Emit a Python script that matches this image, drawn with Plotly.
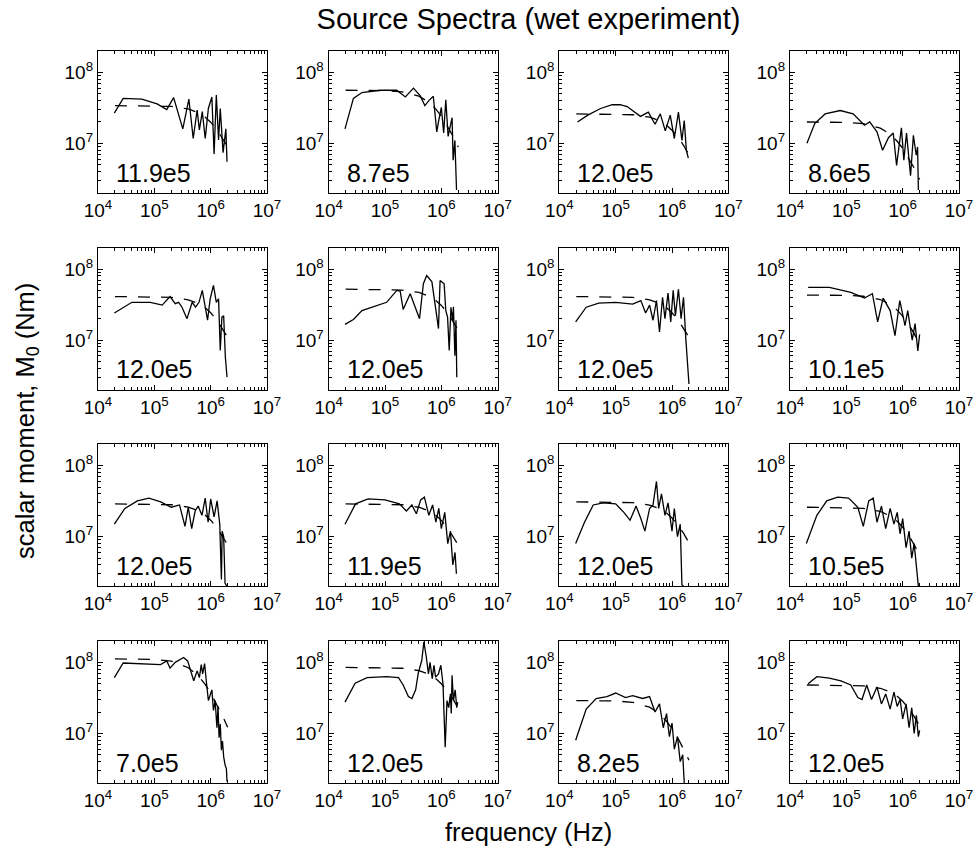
import plotly.graph_objects as go
from plotly.subplots import make_subplots

# ---- source spectra: frequency (Hz) and scalar moment M0 (Nm), one panel per event ----
corner_labels = ["11.9e5", "8.7e5", "12.0e5", "8.6e5",
                 "12.0e5", "12.0e5", "12.0e5", "10.1e5",
                 "12.0e5", "11.9e5", "12.0e5", "10.5e5",
                 "7.0e5", "12.0e5", "8.2e5", "12.0e5"]

spec_f = [
    [1.95e4, 2.8e4, 6.0e4, 1.12e5, 1.66e5, 2.2e5, 3.2e5, 4.1e5, 4.9e5, 5.75e5, 6.3e5, 7.1e5, 8.0e5, 9.1e5,
     1.05e6, 1.15e6, 1.26e6, 1.38e6, 1.48e6, 1.66e6, 1.86e6, 1.95e6],
    [1.95e4, 2.75e4, 3.9e4, 8.1e4, 1.62e5, 2.3e5, 3.2e5, 4.2e5, 5.1e5, 6.0e5, 7.2e5, 8.3e5, 8.9e5, 1.0e6,
     1.1e6, 1.2e6, 1.32e6, 1.55e6, 1.62e6, 1.74e6, 1.86e6],
    [2.1e4, 3.2e4, 5.4e4, 8.7e4, 1.2e5, 1.6e5, 2.75e5, 3.8e5, 5.0e5, 6.2e5, 7.6e5, 9.3e5, 1.1e6, 1.3e6,
     1.5e6, 1.65e6, 1.8e6, 1.95e6],
    [2.0e4, 2.75e4, 4.2e4, 7.8e4, 1.32e5, 1.74e5, 2.1e5, 2.6e5, 3.5e5, 4.4e5, 5.6e5, 6.8e5, 7.8e5, 9.5e5,
     1.05e6, 1.17e6, 1.38e6, 1.55e6, 1.74e6, 1.84e6, 1.9e6],
    [1.95e4, 2.8e4, 4.0e4, 8.5e4, 1.38e5, 1.9e5, 2.35e5, 2.7e5, 3.1e5, 3.8e5, 4.7e5, 5.4e5, 6.2e5, 7.1e5,
     8.0e5, 8.8e5, 9.8e5, 1.12e6, 1.26e6, 1.38e6, 1.48e6, 1.58e6, 1.7e6, 1.82e6, 1.95e6],
    [1.95e4, 2.75e4, 3.9e4, 6.8e4, 1.07e5, 1.62e5, 1.86e5, 2.1e5, 2.45e5, 2.8e5, 4.1e5, 4.8e5, 5.5e5, 6.8e5,
     8.9e5, 9.5e5, 1.12e6, 1.2e6, 1.29e6, 1.38e6, 1.48e6, 1.58e6, 1.64e6, 1.74e6, 1.82e6, 1.88e6],
    [1.95e4, 3.0e4, 5.0e4, 1.0e5, 2.0e5, 2.8e5, 3.4e5, 4.0e5, 4.6e5, 5.3e5, 6.0e5, 6.8e5, 7.5e5, 8.5e5,
     9.5e5, 1.05e6, 1.15e6, 1.3e6, 1.45e6, 1.6e6, 1.75e6, 1.9e6, 2.0e6],
    [2.1e4, 5.0e4, 1.2e5, 2.1e5, 2.9e5, 3.6e5, 4.5e5, 6.0e5, 7.3e5, 8.9e5, 1.1e6, 1.23e6, 1.48e6, 1.66e6,
     1.86e6, 2.0e6],
    [1.95e4, 3.0e4, 5.0e4, 8.0e4, 1.3e5, 2.0e5, 2.8e5, 3.5e5, 4.0e5, 4.6e5, 5.3e5, 6.0e5, 7.0e5, 8.0e5,
     9.0e5, 1.0e6, 1.15e6, 1.3e6, 1.45e6, 1.55e6, 1.6e6, 1.7e6, 1.8e6, 1.95e6],
    [1.95e4, 3.0e4, 5.0e4, 1.0e5, 1.8e5, 2.4e5, 3.0e5, 3.6e5, 4.3e5, 5.0e5, 6.0e5, 7.0e5, 8.0e5, 9.0e5,
     1.0e6, 1.15e6, 1.3e6, 1.45e6, 1.6e6, 1.75e6, 1.85e6],
    [1.95e4, 2.8e4, 4.0e4, 6.0e4, 1.0e5, 1.4e5, 1.8e5, 2.3e5, 2.8e5, 3.3e5, 4.0e5, 4.6e5, 5.3e5, 5.8e5,
     6.5e5, 7.5e5, 8.5e5, 1.0e6, 1.1e6, 1.25e6, 1.4e6, 1.5e6, 1.6e6],
    [1.95e4, 3.0e4, 4.5e4, 7.0e4, 1.1e5, 1.6e5, 2.0e5, 2.5e5, 3.0e5, 3.5e5, 4.2e5, 5.0e5, 6.0e5, 7.0e5,
     8.0e5, 9.0e5, 1.0e6, 1.15e6, 1.3e6, 1.45e6, 1.6e6, 1.75e6, 1.9e6],
    [1.95e4, 2.8e4, 1.29e5, 1.66e5, 1.9e5, 2.35e5, 3.3e5, 3.9e5, 5.0e5, 5.75e5, 6.3e5, 6.8e5, 7.2e5, 7.8e5,
     8.5e5, 9.1e5, 1.05e6, 1.12e6, 1.2e6, 1.29e6, 1.35e6, 1.41e6, 1.48e6, 1.55e6, 1.62e6, 1.7e6, 1.8e6,
     1.9e6, 1.95e6],
    [1.95e4, 2.95e4, 4.8e4, 1.07e5, 1.74e5, 2.1e5, 2.6e5, 3.0e5, 3.5e5, 3.9e5, 4.5e5, 4.9e5, 5.4e5, 5.9e5,
     6.3e5, 6.9e5, 7.4e5, 7.9e5, 8.9e5, 9.8e5, 1.07e6, 1.15e6, 1.17e6, 1.26e6, 1.35e6, 1.45e6, 1.5e6,
     1.55e6, 1.64e6, 1.76e6, 1.88e6, 1.95e6],
    [1.95e4, 3.0e4, 4.5e4, 7.0e4, 1.0e5, 1.5e5, 2.0e5, 3.0e5, 4.0e5, 5.0e5, 6.0e5, 7.0e5, 8.0e5, 9.0e5,
     1.0e6, 1.1e6, 1.25e6, 1.4e6, 1.55e6, 1.65e6],
    [2.1e4, 3.0e4, 5.0e4, 8.0e4, 1.2e5, 1.6e5, 1.9e5, 2.3e5, 2.8e5, 3.5e5, 4.2e5, 5.0e5, 6.0e5, 7.0e5,
     8.0e5, 9.0e5, 1.0e6, 1.15e6, 1.3e6, 1.45e6, 1.6e6, 1.75e6, 1.9e6, 2.0e6],
]

spec_m = [
    [2.67e7, 4.3e7, 4.2e7, 3.6e7, 3.0e7, 4.4e7, 1.6e7, 4.2e7, 1.17e7, 2.95e7, 1.55e7, 2.8e7, 1.17e7, 3.1e7,
     4.5e7, 7.1e6, 4.8e7, 1.12e7, 3.1e7, 7.4e6, 1.6e7, 5.5e6],
    [1.6e7, 4.3e7, 5.2e7, 5.6e7, 5.6e7, 4.5e7, 6.0e7, 4.7e7, 3.4e7, 4.0e7, 4.6e7, 1.45e7, 2.0e7, 3.2e7,
     1.4e7, 4.1e7, 1.25e7, 2.3e7, 5.8e6, 1.1e7, 2.2e6],
    [2.0e7, 2.5e7, 3.1e7, 3.5e7, 3.5e7, 3.3e7, 2.4e7, 2.75e7, 1.86e7, 2.6e7, 1.5e7, 2.5e7, 1.17e7, 2.75e7,
     1.1e7, 2.1e7, 7.9e6, 6.2e6],
    [1.0e7, 1.9e7, 2.6e7, 2.9e7, 2.6e7, 2.1e7, 1.8e7, 2.0e7, 1.45e7, 8.0e6, 1.2e7, 1.4e7, 4.9e6, 1.65e7,
     5.8e6, 1.4e7, 3.5e6, 1.3e7, 6.8e6, 8.9e6, 2.2e6],
    [2.4e7, 2.9e7, 3.4e7, 3.4e7, 3.1e7, 4.1e7, 3.25e7, 3.4e7, 2.9e7, 2.0e7, 3.4e7, 2.9e7, 3.4e7, 5.0e7,
     3.1e7, 1.9e7, 3.8e7, 5.9e7, 3.4e7, 3.8e7, 7.1e6, 2.1e7, 2.2e7, 5.8e6, 3.0e6],
    [1.66e7, 1.95e7, 2.6e7, 3.0e7, 3.4e7, 5.0e7, 4.9e7, 2.7e7, 3.6e7, 4.5e7, 2.0e7, 6.2e7, 8.1e7, 6.6e7,
     1.45e7, 6.9e7, 6.2e7, 2.6e7, 2.1e7, 7.1e6, 2.9e7, 1.9e7, 2.95e7, 6.0e6, 1.9e7, 3.0e6],
    [1.8e7, 2.9e7, 3.3e7, 3.4e7, 3.2e7, 3.6e7, 2.4e7, 3.1e7, 1.9e7, 3.6e7, 1.3e7, 4.0e7, 2.0e7, 4.6e7,
     1.8e7, 5.0e7, 2.2e7, 5.2e7, 2.0e7, 4.0e7, 1.1e7, 5.0e6, 2.4e6],
    [5.5e7, 5.5e7, 4.7e7, 3.9e7, 4.5e7, 1.8e7, 3.9e7, 2.6e7, 1.15e7, 3.6e7, 1.6e7, 2.6e7, 1.0e7, 1.7e7,
     7.0e6, 1.2e7],
    [1.5e7, 2.5e7, 3.2e7, 3.5e7, 3.1e7, 2.6e7, 2.8e7, 1.4e7, 2.6e7, 1.3e7, 2.3e7, 2.7e7, 2.0e7, 3.5e7,
     1.6e7, 3.4e7, 1.9e7, 3.2e7, 1.5e7, 2.5e6, 1.2e7, 1.0e7, 2.2e6, 2.0e6],
    [1.5e7, 2.9e7, 3.4e7, 3.3e7, 2.9e7, 2.3e7, 2.8e7, 2.1e7, 3.3e7, 3.6e7, 2.0e7, 2.8e7, 1.6e7, 2.5e7,
     1.3e7, 2.2e7, 8.0e6, 1.2e7, 4.0e6, 6.0e6, 3.0e6],
    [8.0e6, 1.6e7, 2.8e7, 3.0e7, 2.9e7, 2.2e7, 1.7e7, 2.7e7, 1.8e7, 1.2e7, 2.5e7, 2.8e7, 6.0e7, 2.5e7,
     4.0e7, 2.0e7, 3.0e7, 1.2e7, 2.5e7, 1.0e7, 1.5e7, 2.1e6, 2.0e6],
    [8.0e6, 2.0e7, 3.2e7, 3.6e7, 3.5e7, 2.6e7, 1.4e7, 3.2e7, 3.5e7, 1.6e7, 2.7e7, 1.3e7, 2.5e7, 1.5e7,
     2.2e7, 1.1e7, 1.8e7, 7.0e6, 1.2e7, 5.0e6, 8.0e6, 4.0e6, 2.0e6],
    [6.1e7, 9.8e7, 9.3e7, 1.05e8, 8.3e7, 1.0e8, 1.17e8, 1.05e8, 5.5e7, 7.6e7, 6.1e7, 9.3e7, 6.9e7, 9.6e7,
     4.8e7, 2.9e7, 4.1e7, 2.1e7, 2.9e7, 1.2e7, 2.4e7, 8.7e6, 1.35e7, 5.8e6, 7.8e6, 4.7e6, 3.6e6, 3.2e6,
     2.1e6],
    [2.76e7, 5.1e7, 6.1e7, 6.3e7, 6.1e7, 4.8e7, 3.3e7, 3.1e7, 4.1e7, 7.1e7, 1.07e8, 1.95e8, 1.2e8, 6.9e7,
     1.0e8, 5.9e7, 9.1e7, 6.2e7, 6.9e7, 9.1e7, 5.0e7, 1.4e7, 6.4e6, 2.9e7, 2.3e7, 3.6e7, 1.9e7, 6.6e7,
     2.9e7, 4.1e7, 2.3e7, 2.75e7],
    [8.0e6, 2.2e7, 3.1e7, 3.3e7, 3.7e7, 3.2e7, 3.4e7, 3.1e7, 3.3e7, 2.0e7, 2.6e7, 1.2e7, 1.9e7, 9.0e6,
     1.4e7, 6.0e6, 9.0e6, 4.0e6, 5.0e6, 2.0e6],
    [5.0e7, 6.3e7, 6.0e7, 5.5e7, 4.8e7, 3.2e7, 3.0e7, 4.8e7, 3.0e7, 4.5e7, 2.6e7, 3.6e7, 2.2e7, 3.8e7,
     2.4e7, 3.0e7, 1.6e7, 2.6e7, 1.2e7, 2.3e7, 1.0e7, 1.8e7, 9.0e6, 1.1e7],
]

# fitted source model (dashed), sampled at common frequencies
model_f = [2e4, 1e5, 2e5, 4e5, 6e5, 8e5, 1e6, 1.3e6, 1.6e6, 2e6]
model_m = [
    [3.4e7, 3.38e7, 3.31e7, 3.05e7, 2.71e7, 2.34e7, 1.99e7, 1.55e7, 1.21e7, 8.9e6],
    [5.6e7, 5.53e7, 5.32e7, 4.62e7, 3.8e7, 3.04e7, 2.41e7, 1.73e7, 1.28e7, 8.9e6],
    [2.6e7, 2.58e7, 2.53e7, 2.34e7, 2.08e7, 1.8e7, 1.53e7, 1.2e7, 9.4e6, 6.9e6],
    [2.0e7, 1.97e7, 1.9e7, 1.64e7, 1.35e7, 1.07e7, 8.5e6, 6.1e6, 4.5e6, 3.1e6],
    [4.1e7, 4.07e7, 3.99e7, 3.69e7, 3.28e7, 2.84e7, 2.42e7, 1.89e7, 1.48e7, 1.09e7],
    [5.2e7, 5.16e7, 5.06e7, 4.68e7, 4.16e7, 3.6e7, 3.07e7, 2.39e7, 1.87e7, 1.38e7],
    [4.1e7, 4.07e7, 3.99e7, 3.69e7, 3.28e7, 2.84e7, 2.42e7, 1.89e7, 1.48e7, 1.09e7],
    [4.3e7, 4.26e7, 4.14e7, 3.72e7, 3.18e7, 2.64e7, 2.17e7, 1.62e7, 1.23e7, 8.7e6],
    [2.9e7, 2.88e7, 2.82e7, 2.61e7, 2.32e7, 2.01e7, 1.71e7, 1.33e7, 1.04e7, 7.7e6],
    [2.9e7, 2.88e7, 2.82e7, 2.6e7, 2.31e7, 2.0e7, 1.7e7, 1.32e7, 1.03e7, 7.6e6],
    [3.1e7, 3.08e7, 3.02e7, 2.79e7, 2.48e7, 2.15e7, 1.83e7, 1.43e7, 1.12e7, 8.2e6],
    [2.6e7, 2.58e7, 2.51e7, 2.27e7, 1.96e7, 1.65e7, 1.36e7, 1.03e7, 7.8e6, 5.6e6],
    [1.12e8, 1.1e8, 1.04e8, 8.4e7, 6.5e7, 4.9e7, 3.7e7, 2.5e7, 1.8e7, 1.22e7],
    [8.5e7, 8.44e7, 8.27e7, 7.65e7, 6.8e7, 5.88e7, 5.0e7, 3.9e7, 3.06e7, 2.25e7],
    [2.9e7, 2.86e7, 2.74e7, 2.34e7, 1.89e7, 1.48e7, 1.17e7, 8.3e6, 6.0e6, 4.2e6],
    [4.8e7, 4.77e7, 4.67e7, 4.32e7, 3.84e7, 3.32e7, 2.83e7, 2.21e7, 1.73e7, 1.27e7],
]

x_tickvals = [1e4, 1e5, 1e6, 1e7]
x_ticktext = ["10<sup>4</sup>", "10<sup>5</sup>", "10<sup>6</sup>", "10<sup>7</sup>"]
y_tickvals = [1e7, 1e8]
y_ticktext = ["10<sup>7</sup>", "10<sup>8</sup>"]
x_minor = [k * 10 ** d for d in (4, 5, 6) for k in range(2, 10)]
y_minor = [k * 10 ** d for d in (6, 7) for k in range(2, 10)]

FONT = "Liberation Sans, Arial, Helvetica, sans-serif"

fig = make_subplots(rows=4, cols=4, horizontal_spacing=0.0716, vertical_spacing=0.0747)

for i in range(16):
    r, c = i // 4 + 1, i % 4 + 1
    fig.add_trace(go.Scatter(x=spec_f[i], y=spec_m[i], mode="lines",
                             line=dict(color="black", width=1.3), showlegend=False,
                             hoverinfo="skip"), row=r, col=c)
    fig.add_trace(go.Scatter(x=model_f, y=model_m[i], mode="lines",
                             line=dict(color="black", width=1.3, dash="12px,11px"),
                             showlegend=False, hoverinfo="skip"), row=r, col=c)
    ax = "" if i == 0 else str(i + 1)
    fig.add_annotation(text=corner_labels[i], xref=f"x{ax} domain", yref=f"y{ax} domain",
                       x=0.095, y=0.03, xanchor="left", yanchor="bottom", showarrow=False,
                       font=dict(family=FONT, size=25, color="black"))

axis_common = dict(showline=True, linecolor="black", linewidth=1.3, mirror="ticks",
                   ticks="inside", ticklen=5, tickwidth=1, tickcolor="black",
                   showgrid=False, zeroline=False,
                   tickfont=dict(family=FONT, size=19, color="black"))

fig.update_xaxes(type="log", range=[4, 7], tickmode="array", tickvals=x_tickvals,
                 ticktext=x_ticktext,
                 minor=dict(tickmode="array", tickvals=x_minor, ticks="inside", ticklen=3,
                            tickcolor="black", showgrid=False),
                 **axis_common)
fig.update_yaxes(type="log", range=[6.301, 8.301], tickmode="array", tickvals=y_tickvals,
                 ticktext=y_ticktext,
                 minor=dict(tickmode="array", tickvals=y_minor, ticks="inside", ticklen=3,
                            tickcolor="black", showgrid=False),
                 **axis_common)

fig.add_annotation(text="frequency (Hz)", xref="paper", yref="paper", x=0.5, y=-0.067,
                   xanchor="center", yanchor="middle", showarrow=False,
                   font=dict(family=FONT, size=25.5, color="black"))
fig.add_annotation(text="scalar moment, M<sub>0</sub> (Nm)", xref="paper", yref="paper",
                   x=-0.0825, y=0.4945, xanchor="center", yanchor="middle", textangle=-90,
                   showarrow=False, font=dict(family=FONT, size=25.5, color="black"))

fig.update_layout(
    width=974, height=848, template="none",
    paper_bgcolor="white", plot_bgcolor="white",
    margin=dict(l=98, r=15, t=51, b=65),
    font=dict(family=FONT, color="black"),
    title=dict(text="Source Spectra (wet experiment)", x=0.5, xref="paper", xanchor="center",
               y=1 - 19 / 848, yref="container", yanchor="middle",
               font=dict(family=FONT, size=29, color="black")),
)

fig.write_html("out.html")
